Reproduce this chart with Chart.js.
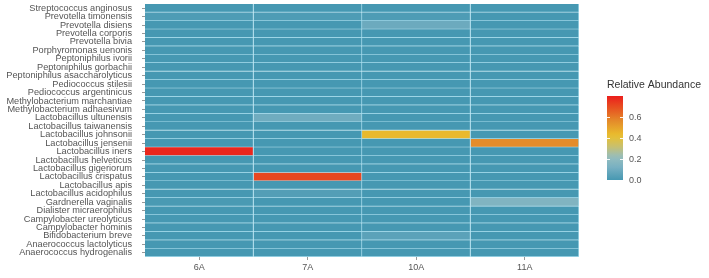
<!DOCTYPE html>
<html>
<head>
<meta charset="utf-8">
<script src="https://cdn.jsdelivr.net/npm/chart.js@4"></script>
<style>
  html, body { margin: 0; padding: 0; background: #fff; }
  #wrap { width: 709px; height: 278px; }
</style>
</head>
<body>
<div id="wrap"><canvas id="heat" width="709" height="278"></canvas></div>
<script>
const samples = ['6A', '7A', '10A', '11A'];

const species = [
  'Streptococcus anginosus', 'Prevotella timonensis', 'Prevotella disiens',
  'Prevotella corporis', 'Prevotella bivia', 'Porphyromonas uenonis',
  'Peptoniphilus ivorii', 'Peptoniphilus gorbachii', 'Peptoniphilus asaccharolyticus',
  'Pediococcus stilesii', 'Pediococcus argentinicus', 'Methylobacterium marchantiae',
  'Methylobacterium adhaesivum', 'Lactobacillus ultunensis', 'Lactobacillus taiwanensis',
  'Lactobacillus johnsonii', 'Lactobacillus jensenii', 'Lactobacillus iners',
  'Lactobacillus helveticus', 'Lactobacillus gigeriorum', 'Lactobacillus crispatus',
  'Lactobacillus apis', 'Lactobacillus acidophilus', 'Gardnerella vaginalis',
  'Dialister micraerophilus', 'Campylobacter ureolyticus', 'Campylobacter hominis',
  'Bifidobacterium breve', 'Anaerococcus lactolyticus', 'Anaerococcus hydrogenalis'
];

// relative abundance per sample, same order as species
const abund6A  = [0, 0.02, 0, 0, 0, 0, 0, 0, 0, 0, 0, 0, 0, 0, 0, 0, 0, 0.78, 0, 0, 0, 0, 0, 0.01, 0, 0, 0, 0, 0, 0];
const abund7A  = [0, 0.02, 0, 0, 0, 0, 0, 0, 0, 0, 0, 0, 0, 0.1, 0, 0, 0, 0, 0, 0, 0.71, 0, 0.03, 0, 0, 0, 0, 0, 0, 0];
const abund10A = [0, 0.02, 0.09, 0, 0, 0, 0, 0, 0, 0, 0, 0, 0, 0, 0, 0.44, 0, 0, 0, 0, 0, 0, 0, 0, 0, 0, 0, 0.05, 0, 0];
const abund11A = [0, 0, 0, 0, 0, 0, 0, 0, 0, 0, 0, 0, 0, 0, 0, 0, 0.56, 0, 0, 0, 0, 0, 0, 0.15, 0, 0, 0, 0, 0, 0];

const legendTicks = [0, 0.2, 0.4, 0.6];
const legendMax = 0.8;

const columns = [abund6A, abund7A, abund10A, abund11A];

// colour ramp: blue -> pale -> yellow -> orange -> red
const stops = [
  [0.00, [70, 152, 178]],
  [0.12, [120, 176, 194]],
  [0.22, [150, 190, 190]],
  [0.32, [200, 192, 110]],
  [0.42, [234, 192, 46]],
  [0.56, [228, 140, 42]],
  [0.70, [232, 76, 32]],
  [0.80, [236, 30, 28]]
];

function colorAt(v) {
  if (v <= stops[0][0]) return 'rgb(' + stops[0][1].join(',') + ')';
  for (let i = 1; i < stops.length; i++) {
    if (v <= stops[i][0]) {
      const a = stops[i - 1], b = stops[i];
      const t = (v - a[0]) / (b[0] - a[0]);
      const c = a[1].map((x, k) => Math.round(x + (b[1][k] - x) * t));
      return 'rgb(' + c.join(',') + ')';
    }
  }
  return 'rgb(' + stops[stops.length - 1][1].join(',') + ')';
}

const colorbar = {
  id: 'colorbar',
  afterDraw(chart) {
    const ctx = chart.ctx;
    const x = 607, w = 16, yBottom = 180, yTop = 96;
    const toY = v => yBottom - (v / legendMax) * (yBottom - yTop);
    const grad = ctx.createLinearGradient(0, yBottom, 0, yTop);
    for (let i = 0; i <= 20; i++) {
      const v = legendMax * i / 20;
      grad.addColorStop(i / 20, colorAt(v));
    }
    ctx.save();
    ctx.fillStyle = grad;
    ctx.fillRect(x, yTop, w, yBottom - yTop);
    ctx.strokeStyle = 'rgba(255,255,255,0.9)';
    ctx.lineWidth = 1;
    ctx.font = '9px "Liberation Sans", Arial, sans-serif';
    ctx.fillStyle = '#555';
    ctx.textBaseline = 'middle';
    legendTicks.forEach(t => {
      const y = Math.round(toY(t)) + 0.5;
      ctx.beginPath();
      ctx.moveTo(x, y); ctx.lineTo(x + 3, y);
      ctx.moveTo(x + w - 3, y); ctx.lineTo(x + w, y);
      ctx.stroke();
      ctx.fillText(t.toFixed(1), x + w + 6, y);
    });
    ctx.fillStyle = '#333';
    ctx.font = '10.5px "Liberation Sans", Arial, sans-serif';
    ctx.textBaseline = 'alphabetic';
    ctx.fillText('Relative Abundance', x, 88);
    ctx.restore();
  }
};

new Chart(document.getElementById('heat'), {
  type: 'bar',
  data: {
    labels: species,
    datasets: samples.map((s, c) => ({
      label: s,
      data: species.map(() => 1),
      abundance: columns[c],
      backgroundColor: columns[c].map(v => colorAt(v)),
      borderColor: 'rgba(170, 222, 238, 1)',
      borderWidth: { top: 0, left: 0, right: 1, bottom: 1 },
      borderSkipped: false,
      barPercentage: 1,
      categoryPercentage: 1
    }))
  },
  options: {
    indexAxis: 'y',
    responsive: false,
    animation: false,
    layout: { padding: { top: 4, right: 130, left: 0, bottom: 0 } },
    plugins: {
      legend: { display: false },
      tooltip: {
        callbacks: {
          label: ctx => ctx.dataset.label + ': ' + ctx.dataset.abundance[ctx.dataIndex]
        }
      }
    },
    scales: {
      x: {
        type: 'linear',
        stacked: true,
        min: 0,
        max: samples.length,
        afterBuildTicks: scale => {
          scale.ticks = samples.map((s, i) => ({ value: i + 0.5 }));
        },
        afterFit: scale => {
          scale.height = 21;
          scale.paddingLeft = 0;
          scale.paddingRight = 0;
        },
        ticks: {
          autoSkip: false,
          maxRotation: 0,
          padding: 2,
          color: '#555',
          font: { family: '"Liberation Sans", Arial, sans-serif', size: 9 },
          callback: v => samples[Math.floor(v)]
        },
        grid: { drawOnChartArea: false, tickLength: 3, color: '#999' },
        border: { display: false }
      },
      y: {
        stacked: true,
        afterFit: scale => {
          scale.width = 145;
          scale.paddingTop = 0;
          scale.paddingBottom = 0;
        },
        ticks: {
          autoSkip: false,
          padding: 10,
          color: '#555',
          font: { family: '"Liberation Sans", Arial, sans-serif', size: 9.2, lineHeight: 1 }
        },
        grid: { drawOnChartArea: false, offset: false, tickLength: 3, color: '#999' },
        border: { display: false }
      }
    }
  },
  plugins: [colorbar]
});
</script>
</body>
</html>
